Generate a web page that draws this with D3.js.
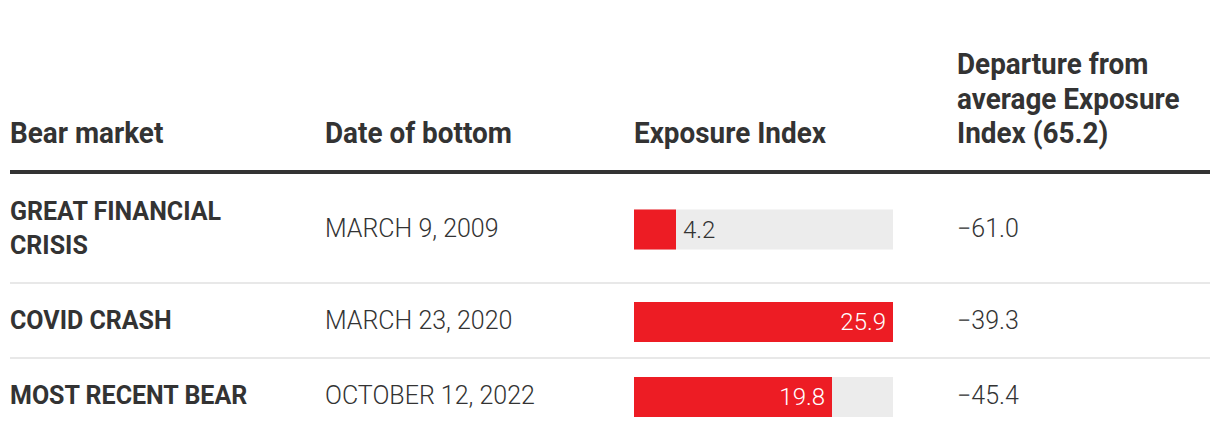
<!DOCTYPE html>
<html><head><meta charset="utf-8">
<script src="https://cdn.jsdelivr.net/npm/d3@7"></script>
<style>
html,body{margin:0;padding:0;background:#fff;}
svg{display:block;font-family:Roboto, "Noto Sans", sans-serif;}
</style></head>
<body><svg id="chart" width="1220" height="444"></svg>
<script>
const headers = ["Bear market", "Date of bottom", "Exposure Index", "Departure from average Exposure Index (65.2)"];
const categories = ["GREAT FINANCIAL CRISIS", "COVID CRASH", "MOST RECENT BEAR"];
const dates = ["MARCH 9, 2009", "MARCH 23, 2020", "OCTOBER 12, 2022"];
const exposure = [4.2, 25.9, 19.8];
const averageExposure = 65.2;

const svg = d3.select("#chart");
const left = 10, right = 1210;
const colX = [10, 325, 634, 957];
const headerBase = 143, headerLH = 34.5, headerRuleY = 172;
const lineH = 35, rowPad = 40;
const barW = 259, barH = 40;
const dark = "#333333", red = "#ED1C24", track = "#ECECEC";
const hx = 0.93, hSize = 30, bSize = 25;

function wrapLines(text, maxW, measureFn) {
  const words = text.split(" "); const lines = []; let cur = "";
  words.forEach(w => {
    const t = cur ? cur + " " + w : w;
    if (measureFn(t) > maxW && cur) { lines.push(cur); cur = w; } else cur = t;
  });
  if (cur) lines.push(cur);
  return lines;
}
const meas = svg.append("text").attr("visibility", "hidden");
function measure(t, size, weight) {
  meas.attr("font-size", size).attr("font-weight", weight).text(t);
  return meas.node().getComputedTextLength();
}

headers.forEach((h, i) => {
  const maxW = i === 3 ? 235 / hx : 280 / hx;
  const lines = wrapLines(h, maxW, t => measure(t, hSize, 700));
  const g = svg.append("g").attr("transform", `translate(${colX[i]},0)`);
  lines.forEach((ln, j) => {
    const y = headerBase - (lines.length - 1 - j) * headerLH;
    g.append("text").attr("transform", `translate(0,${y}) scale(${hx},1)`)
      .attr("font-size", hSize).attr("font-weight", 700).attr("fill", dark).text(ln);
  });
});

svg.append("rect").attr("x", left).attr("y", headerRuleY - 2).attr("width", right - left).attr("height", 4).attr("fill", dark);

const rows = categories.map((c, i) => ({
  cat: c, lines: wrapLines(c, 260, t => measure(t, bSize, 700)),
  date: dates[i], value: exposure[i], dep: exposure[i] - averageExposure
}));
let y0 = headerRuleY + 1;
rows.forEach(r => { r.top = y0; r.h = r.lines.length * lineH + rowPad; r.cy = y0 + r.h / 2 + 1.5; y0 += r.h; });

const x = d3.scaleLinear().domain([0, d3.max(exposure)]).range([0, barW]);
const fmt = d3.format(".1f");
const tOff = 7; // baseline offset from row centre

rows.forEach((r, i) => {
  if (i > 0) svg.append("rect").attr("x", left).attr("y", r.top - 1).attr("width", right - left).attr("height", 2).attr("fill", "#E8E8E8");
  r.lines.forEach((ln, j) => {
    const y = r.cy - (r.lines.length - 1) * 34 / 2 + j * 34 + tOff;
    svg.append("text").attr("x", colX[0]).attr("y", y).attr("font-size", bSize).attr("font-weight", 700)
      .attr("fill", dark).text(ln);
  });
  svg.append("text").attr("x", colX[1]).attr("y", r.cy + tOff).attr("font-size", bSize).attr("font-weight", 300)
    .attr("fill", dark).text(r.date);
  svg.append("rect").attr("x", colX[2]).attr("y", r.cy - barH / 2).attr("width", barW).attr("height", barH).attr("fill", track);
  svg.append("rect").attr("x", colX[2]).attr("y", r.cy - barH / 2).attr("width", x(r.value)).attr("height", barH).attr("fill", red);
  const inside = x(r.value) > 60;
  svg.append("text").attr("x", inside ? colX[2] + x(r.value) - 7 : colX[2] + x(r.value) + 7)
    .attr("y", r.cy + 8).attr("text-anchor", inside ? "end" : "start")
    .attr("font-size", 24).attr("font-weight", 300).attr("fill", inside ? "#fff" : dark).text(fmt(r.value));
  svg.append("text").attr("x", colX[3]).attr("y", r.cy + tOff).attr("font-size", bSize).attr("font-weight", 300)
    .attr("fill", dark).text(fmt(r.dep));
});
meas.remove();
</script></body></html>
